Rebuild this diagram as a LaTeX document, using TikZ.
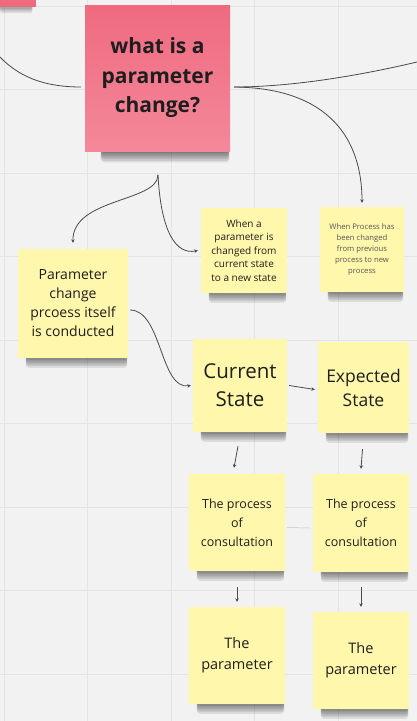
\documentclass[tikz,border=0pt]{standalone}
\usepackage{fontspec}
\setmainfont{Open Sans}
\usetikzlibrary{arrows.meta}
\pgfdeclarelayer{bg}
\pgfdeclarelayer{shadow}
\pgfsetlayers{bg,shadow,main}
\definecolor{canvas}{HTML}{F2F2F2}
\definecolor{gridc}{HTML}{E4E4E4}
\definecolor{sticky}{HTML}{FFF7AB}
\definecolor{pinktop}{HTML}{EF6A7F}
\definecolor{pinkbot}{HTML}{F4889A}
\definecolor{inkc}{HTML}{1E1E1E}
\definecolor{linec}{HTML}{4A4A4A}
\tikzset{
  note/.style={fill=sticky, draw=none, inner sep=2pt, align=center, text=inkc},
  pinknote/.style={top color=pinktop, bottom color=pinkbot, draw=none, inner sep=2pt, align=center, text=inkc},
  conn/.style={draw=linec, line width=0.8pt},
  arr/.style={conn, -{Stealth[length=3.5pt,width=3.5pt]}},
}
\begin{document}
\begin{tikzpicture}[x=1pt,y=-1pt]
\useasboundingbox (0,0) rectangle (417,721);
\begin{pgfonlayer}{bg}
  \fill[canvas] (0,0) rectangle (417,721);
  \foreach \gx in {4,87.6,171.2,254.8,338.4} \draw[gridc, line width=1pt] (\gx,0) -- (\gx,721);
  \foreach \gy in {6,89.5,173,256.5,340,423.5,507,590.5,674} \draw[gridc, line width=1pt] (0,\gy) -- (417,\gy);
\end{pgfonlayer}

% partial pink note at top-left
\node[fill=pinktop, draw=none, minimum width=36pt, minimum height=8pt, inner sep=0pt, anchor=north west] (tl) at (0,-1) {};

% main question
\node[pinknote, minimum width=145pt, minimum height=146pt, font=\bfseries\fontsize{21}{29.5}\selectfont] (q) at (157.5,78) {what is a\\parameter\\change?};

% yellow notes
\node[note, minimum width=86pt, minimum height=85pt, font=\fontsize{10}{13.5}\selectfont] (wa) at (244,250.5) {When a\\parameter is\\changed from\\current state\\to a new state};
\node[note, minimum width=84pt, minimum height=85pt, text=inkc!75, font=\fontsize{7.7}{11.2}\selectfont] (wp) at (362,249.5) {When Process has\\been changed\\from previous\\process to new\\process};
\node[note, minimum width=110pt, minimum height=109pt, font=\fontsize{14}{19}\selectfont] (pc) at (73,303.5) {Parameter\\change\\prcoess itself\\is conducted};
\node[note, minimum width=94pt, minimum height=93pt, font=\fontsize{20.5}{28}\selectfont] (cs) at (240,385.5) {Current\\State};
\node[note, minimum width=91pt, minimum height=91pt, font=\fontsize{17.5}{24}\selectfont] (es) at (363.5,387.5) {Expected\\State};
\node[note, minimum width=96pt, minimum height=97pt, font=\fontsize{12.5}{19}\selectfont] (c1) at (237,522.5) {The process\\of\\consultation};
\node[note, minimum width=96pt, minimum height=98pt, font=\fontsize{12.5}{19}\selectfont] (c2) at (361,523) {The process\\of\\consultation};
\node[note, minimum width=96pt, minimum height=97pt, font=\fontsize{14.5}{21}\selectfont] (p1) at (237,655.5) {The\\parameter};
\node[note, minimum width=96pt, minimum height=97pt, font=\fontsize{14.5}{21}\selectfont] (p2) at (361,660.5) {The\\parameter};

% shadows
\begin{pgfonlayer}{shadow}
  \foreach \n in {wa,wp,pc,cs,es,c1,c2,p1,p2} {
    \foreach \k in {1,...,6} {
      \fill[black, opacity=0.085, rounded corners=3pt]
        ([xshift=8pt, yshift=4pt]\n.south west) rectangle ([xshift=-1pt, yshift=-\k*1.6pt]\n.south east);
    }
  }
  \foreach \k in {1,...,7} {
    \fill[black, opacity=0.085, rounded corners=3pt]
      ([xshift=16pt, yshift=4pt]q.south west) rectangle ([xshift=-1pt, yshift=-\k*1.6pt]q.south east);
  }
  \foreach \k in {1,...,4} {
    \fill[black, opacity=0.085, rounded corners=2pt]
      ([xshift=0pt, yshift=3pt]tl.south west) rectangle ([xshift=-4pt, yshift=-\k*1.4pt]tl.south east);
  }
\end{pgfonlayer}

% free ends
\coordinate (lft) at (0,57);
\coordinate (rgt) at (417,62);
\coordinate (br) at (158,175);
\coordinate (qL) at (81,87);
\coordinate (qR) at (234,87);

% connectors
\draw[conn] (lft) .. controls (22,80) and (50,87) .. (qL);
\draw[conn] (qR) .. controls (300,87) and (375,72) .. (rgt);
\draw[arr] (qR) .. controls (330,88) and (362,140) .. ([yshift=4pt]wp.north);
\draw[conn] ([yshift=-24pt]q.south) -- (br);
\draw[arr] (br) .. controls (158,202) and (72,198) .. ([yshift=6pt]pc.north);
\draw[arr] (br) .. controls (161,232) and (176,255) .. ([xshift=-3pt]wa.west);
\draw[arr] (130,310) .. controls (162,310) and (160,390) .. ([xshift=-2pt]cs.west);
\draw[arr] ([xshift=2pt]cs.east) -- ([xshift=-3pt, yshift=-2pt]es.west);
\draw[arr] ([xshift=-2pt, yshift=-14pt]cs.south) -- ([xshift=-3pt, yshift=6pt]c1.north);
\draw[arr] ([xshift=-1pt, yshift=-16pt]es.south) -- ([yshift=5pt]c2.north);
\draw[arr] ([yshift=-16pt]c1.south) -- ([yshift=5pt]p1.north);
\draw[arr] ([yshift=-15pt]c2.south) -- ([yshift=5pt]p2.north);
\draw[draw=black!22, line width=0.5pt] ([xshift=2pt, yshift=-5pt]c1.east) -- ([xshift=-3pt, yshift=-5pt]c2.west);
\end{tikzpicture}
\end{document}
